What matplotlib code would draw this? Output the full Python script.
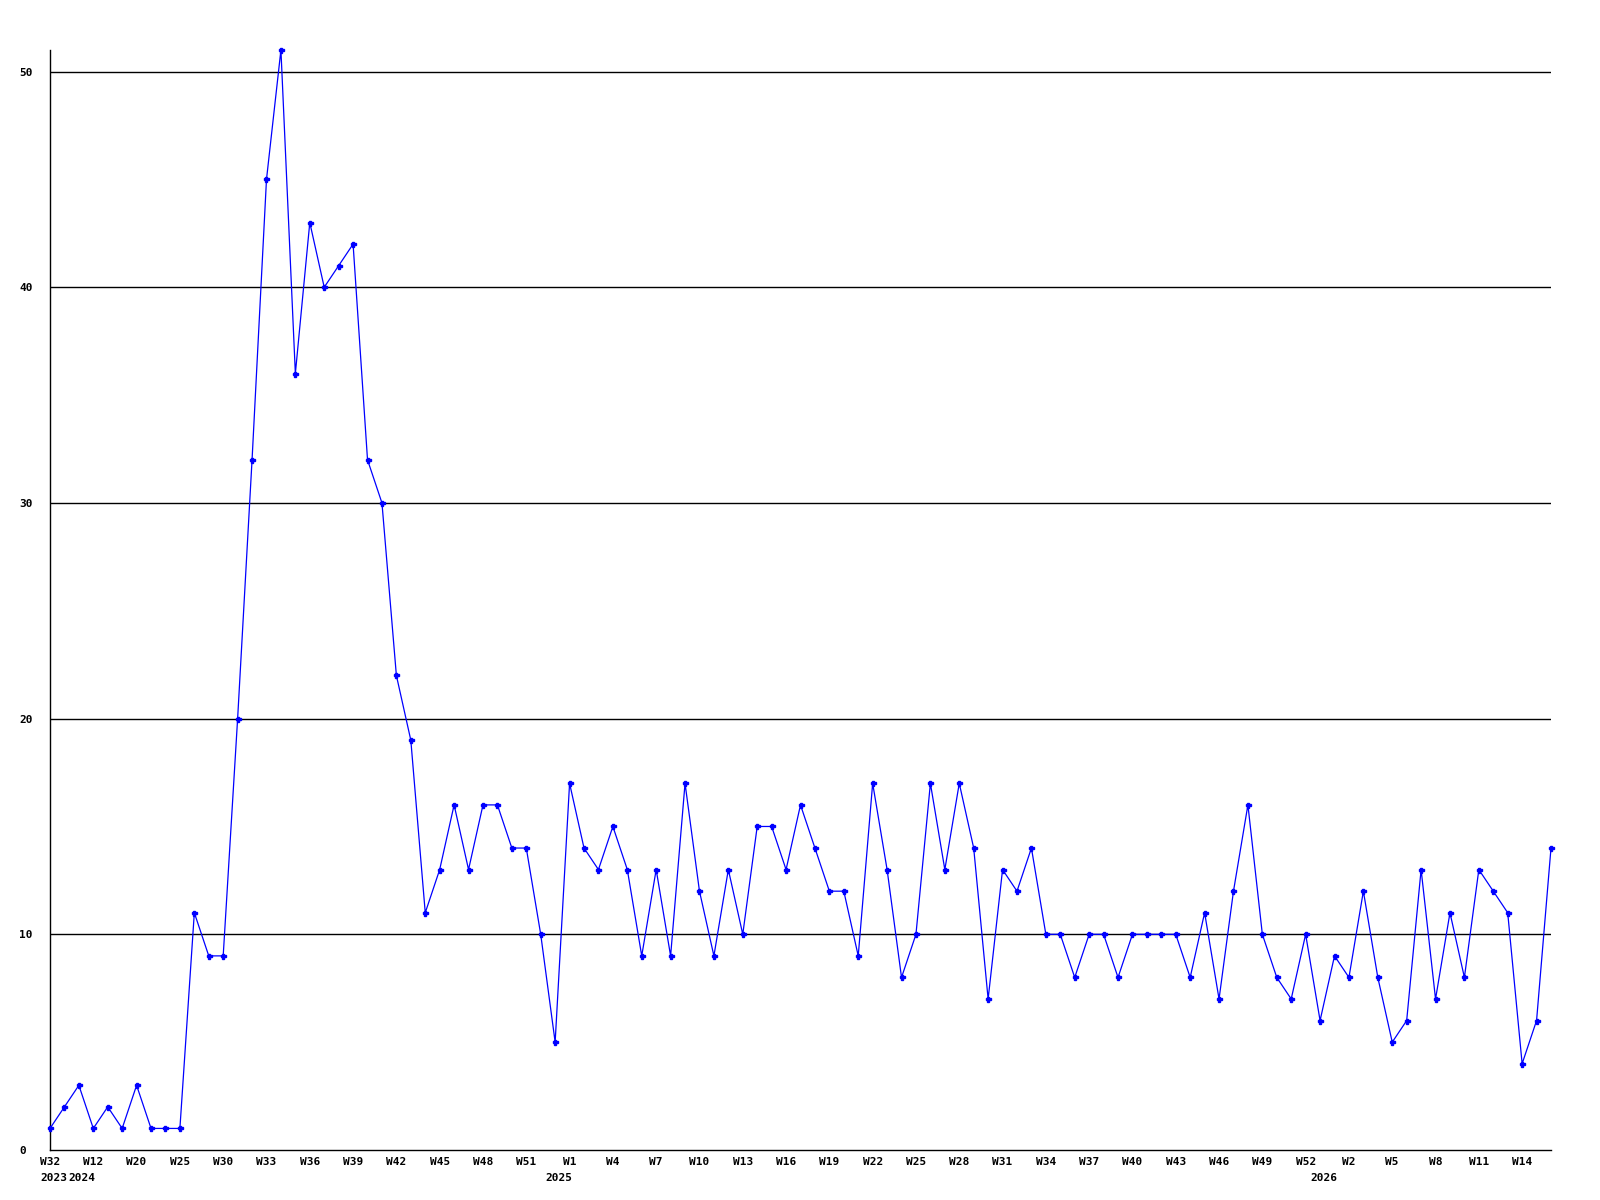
import matplotlib
matplotlib.use("Agg")
import matplotlib.pyplot as plt
import numpy as np

# weekly counts, one value per point
counts = [1, 2, 3, 1, 2, 1, 3, 1, 1, 1,
          11, 9, 9, 20, 32, 45, 51, 36, 43, 40,
          41, 42, 32, 30, 22, 19, 11, 13, 16, 13,
          16, 16, 14, 14, 10, 5, 17, 14, 13, 15,
          13, 9, 13, 9, 17, 12, 9, 13, 10, 15,
          15, 13, 16, 14, 12, 12, 9, 17, 13, 8,
          10, 17, 13, 17, 14, 7, 13, 12, 14, 10,
          10, 8, 10, 10, 8, 10, 10, 10, 10, 8,
          11, 7, 12, 16, 10, 8, 7, 10, 6, 9,
          8, 12, 8, 5, 6, 13, 7, 11, 8, 13,
          12, 11, 4, 6, 14]

# week labels, shown on every third point
week_labels = ["W32", "W12", "W20", "W25", "W30", "W33", "W36", "W39", "W42",
               "W45", "W48", "W51", "W1", "W4", "W7", "W10", "W13", "W16",
               "W19", "W22", "W25", "W28", "W31", "W34", "W37", "W40", "W43",
               "W46", "W49", "W52", "W2", "W5", "W8", "W11", "W14"]

# year labels and the point where each year starts
year_labels = ["2023", "2024", "2025", "2026"]
year_start = [0, 2, 35, 88]

y_ticks = [0, 10, 20, 30, 40, 50]

x = np.arange(len(counts))

fig = plt.figure(figsize=(16, 12), dpi=100)
ax = fig.add_axes([50 / 1600, 50 / 1200, 1501 / 1600, 1100 / 1200])

font = dict(family="DejaVu Sans Mono", weight="bold", size=8)

for yv in y_ticks[1:]:
    ax.axhline(yv, color="black", lw=1.0, zorder=1)

ax.plot(x, counts, color="#0000ff", lw=0.9, marker="P", ms=3.6,
        mec="#0000ff", mfc="#0000ff", zorder=3, clip_on=False)

ax.set_xlim(0, len(counts) - 1)
ax.set_ylim(0, max(counts))

ax.spines["top"].set_visible(False)
ax.spines["right"].set_visible(False)
ax.spines["left"].set_linewidth(1.0)
ax.spines["bottom"].set_linewidth(1.0)

ax.set_yticks(y_ticks)
ax.set_yticklabels([str(v) for v in y_ticks], fontdict=font)
for lab in ax.get_yticklabels():
    lab.set_ha("left")
ax.tick_params(axis="y", length=0, pad=22)

ax.set_xticks(x[::3])
ax.set_xticklabels(week_labels, fontdict=font)
ax.tick_params(axis="x", length=0, pad=5)

for lab, i in zip(year_labels, year_start):
    ax.annotate(lab, xy=(i, 0), xycoords="data", xytext=(-7.2, -16.5),
                textcoords="offset points", ha="left", va="top",
                annotation_clip=False, **font)

fig.savefig("out.png", dpi=100, facecolor="white")
